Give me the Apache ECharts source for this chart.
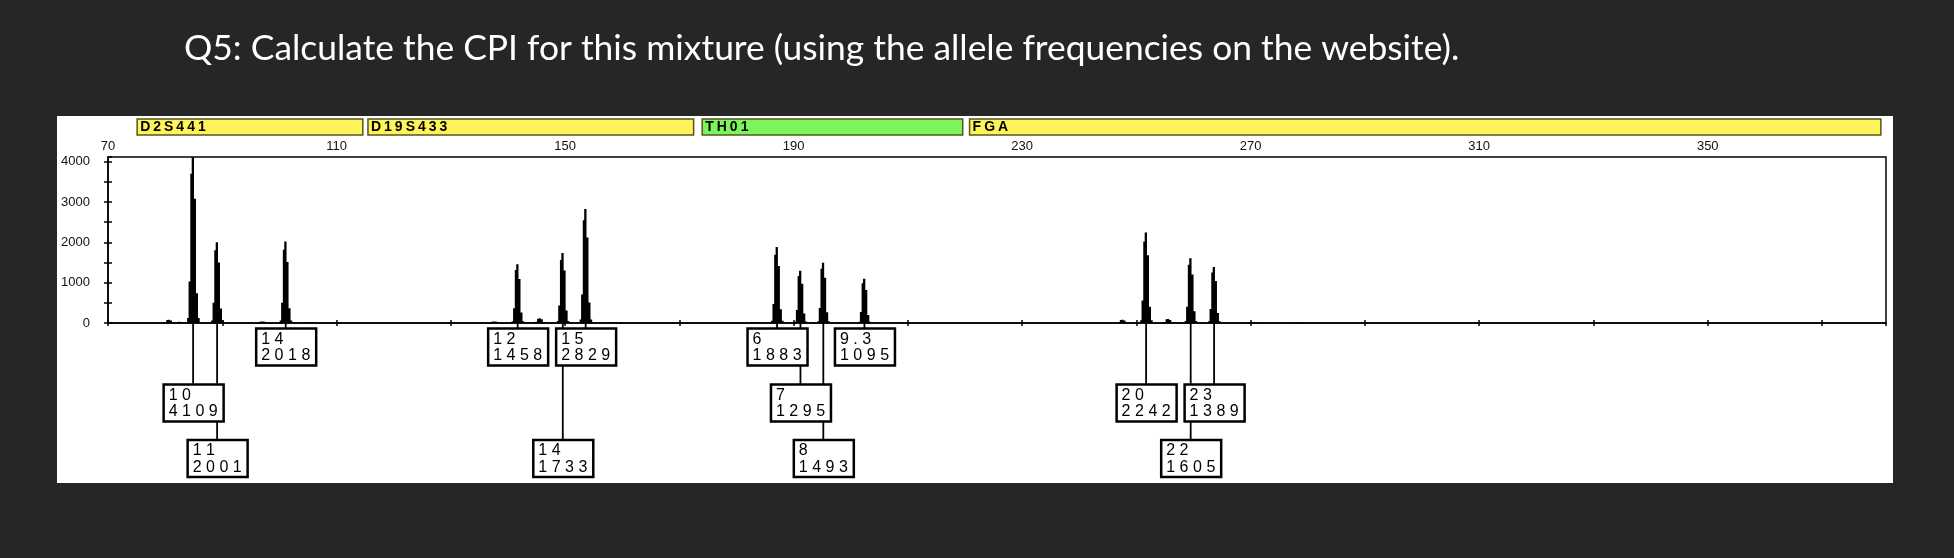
<!DOCTYPE html>
<html>
<head>
<meta charset="utf-8">
<style>
  html, body { margin: 0; padding: 0; background: #262626; }
  #chart { width: 1954px; height: 558px; }
</style>
<script src="https://cdn.jsdelivr.net/npm/echarts@6/dist/echarts.min.js"></script>
</head>
<body>
<div id="chart"></div>
<script>
// marker bars (size range in bp)
const loci = ["D2S441", "D19S433", "TH01", "FGA"];
const locusStart = [75.1, 115.5, 174.0, 220.8];
const locusEnd = [114.6, 172.5, 219.6, 380.3];
const locusDye = ["yellow", "yellow", "green", "yellow"];

// all peaks seen in the trace: size (bp) and height (RFU)
const peakSize = [80.7, 82.5, 84.9, 89.1, 97.1, 101.1, 105.3,
  137.7, 141.7, 145.6, 149.6, 153.6, 159.0,
  183.2, 187.1, 191.2, 195.2, 202.4,
  247.6, 251.7, 255.6, 259.5, 263.6, 270.2, 278.4];
const peakHeight = [80, 30, 4109, 2001, 40, 2018, 20,
  40, 1458, 120, 1733, 2829, 20,
  20, 1883, 1295, 1493, 1095,
  80, 2242, 100, 1605, 1389, 20, 20];

// called alleles (label boxes)
const alleleName = ["10", "11", "14", "12", "14", "15", "6", "7", "8", "9.3", "20", "22", "23"];
const alleleSize = [84.9, 89.1, 101.1, 141.7, 149.6, 153.6, 187.1, 191.2, 195.2, 202.4, 251.7, 259.5, 263.6];
const alleleRFU = [4109, 2001, 2018, 1458, 1733, 2829, 1883, 1295, 1493, 1095, 2242, 1605, 1389];
const alleleRow = [2, 3, 1, 1, 3, 1, 1, 2, 3, 1, 2, 3, 2];

// tick labels
const xTickLabels = [70, 110, 150, 190, 230, 270, 310, 350];
const yTickLabels = [0, 1000, 2000, 3000, 4000];

const dyeColor = { yellow: "#fff35c", green: "#7cf55c" };
const ROW_TOP = [5.5, 61.5, 117]; // px below the baseline
const BOX_W = 60, BOX_H = 37;
// stepped peak outline: [offset in bp, fraction of height]
const PEAK_STEPS = [[-1.05, 0.03], [-0.8, 0.25], [-0.5, 0.9], [-0.25, 1], [0.15, 0.75], [0.5, 0.18], [0.85, 0.03], [1.15, 0]];

const ctx = document.createElement("canvas").getContext("2d");
// text with wide letter spacing, one element per char
function spacedText(str, x, y, font, gap) {
  ctx.font = font;
  const out = [];
  let cx = x;
  for (const ch of str) {
    out.push({
      type: "text", x: cx, y: y,
      style: { text: ch, font: font, fill: "#000", align: "left", verticalAlign: "middle" }
    });
    cx += ctx.measureText(ch).width + gap;
  }
  return out;
}

const title = "Q5: Calculate the CPI for this mixture (using the allele frequencies on the website).";
ctx.font = '100px Lato';
const titleSize = 100 * 1276 / ctx.measureText(title).width;

const chart = echarts.init(document.getElementById("chart"));

const option = {
  backgroundColor: "#262626",
  animation: false,
  graphic: [
    { type: "rect", z: -10, shape: { x: 57, y: 116, width: 1836, height: 367 }, style: { fill: "#fff" } },
    { type: "text", left: 184, top: 31, style: { text: title, font: titleSize.toFixed(1) + "px Lato", fill: "#fff" } }
  ],
  grid: {
    left: 108, top: 157, right: 68, bottom: 235,
    show: true, borderColor: "#000", borderWidth: 1.5,
    outerBoundsMode: "none"
  },
  xAxis: [
    {
      type: "value", position: "top", min: 70, max: 381.2, interval: 20,
      axisLine: { show: true, lineStyle: { color: "#000", width: 1.5 } },
      axisTick: { show: true, length: 3, lineStyle: { color: "#000", width: 1.5 } },
      splitLine: { show: false },
      axisLabel: {
        margin: 4, color: "#111", fontSize: 13, fontFamily: "Liberation Sans",
        showMaxLabel: false,
        formatter: (v) => (xTickLabels.includes(v) ? String(v) : "")
      }
    },
    {
      type: "value", position: "top", min: 70, max: 381.2, interval: 20,
      axisLine: { show: false },
      axisTick: { show: true, inside: true, length: 3, lineStyle: { color: "#000", width: 1.5 } },
      splitLine: { show: false },
      axisLabel: { show: false }
    }
  ],
  yAxis: [
    {
      type: "value", min: 0, max: 4116, interval: 500,
      axisLine: { show: true, lineStyle: { color: "#000", width: 1.5 } },
      axisTick: { show: true, length: 4, lineStyle: { color: "#000", width: 1.5 } },
      splitLine: { show: false },
      axisLabel: {
        margin: 18, color: "#111", fontSize: 13, fontFamily: "Liberation Sans",
        showMaxLabel: false,
        formatter: (v) => (yTickLabels.includes(v) ? String(v) : "")
      }
    },
    {
      type: "value", min: 0, max: 4116, interval: 500, position: "left",
      axisLine: { show: false },
      axisTick: { show: true, inside: true, length: 4, lineStyle: { color: "#000", width: 1.5 } },
      splitLine: { show: false },
      axisLabel: { show: false }
    }
  ],
  series: [
    {
      // marker bars above the axis
      type: "custom", clip: false, z: 2,
      data: loci.map((n, i) => [locusStart[i], locusEnd[i]]),
      encode: { x: [0, 1] },
      renderItem: (params, api) => {
        const i = params.dataIndex;
        const x0 = api.coord([api.value(0), 0])[0];
        const x1 = api.coord([api.value(1), 0])[0];
        return {
          type: "group",
          children: [
            {
              type: "rect", shape: { x: x0, y: 119, width: x1 - x0, height: 16 },
              style: { fill: dyeColor[locusDye[i]], stroke: "#55551c", lineWidth: 1.5 }
            },
            ...spacedText(loci[i], x0 + 3, 127.5, 'bold 14px "Liberation Sans"', 3)
          ]
        };
      }
    },
    {
      // peaks
      type: "custom", z: 3,
      data: peakSize.map((s, i) => [s, peakHeight[i]]),
      encode: { x: 0, y: 1 },
      renderItem: (params, api) => {
        const s = api.value(0), h = api.value(1);
        const pts = [api.coord([s + PEAK_STEPS[0][0], 0])];
        for (let k = 0; k < PEAK_STEPS.length - 1; k++) {
          const a = PEAK_STEPS[k][0], f = PEAK_STEPS[k][1], b = PEAK_STEPS[k + 1][0];
          pts.push(api.coord([s + a, f * h]), api.coord([s + b, f * h]));
        }
        pts.push(api.coord([s + PEAK_STEPS[PEAK_STEPS.length - 1][0], 0]));
        return { type: "polygon", shape: { points: pts }, style: { fill: "#000" } };
      }
    },
    {
      // connector lines from baseline down to the label boxes
      type: "custom", clip: false, z: 4,
      data: alleleSize.map((s, i) => [s, alleleRFU[i]]),
      encode: { x: 0 },
      renderItem: (params, api) => {
        const i = params.dataIndex;
        const p = api.coord([api.value(0), 0]);
        const top = p[1] + ROW_TOP[alleleRow[i] - 1];
        return {
          type: "line", shape: { x1: p[0], y1: p[1], x2: p[0], y2: top },
          style: { stroke: "#000", lineWidth: 1.8 }
        };
      }
    },
    {
      // label boxes: allele / height
      type: "custom", clip: false, z: 5,
      data: alleleSize.map((s, i) => [s, alleleRFU[i]]),
      encode: { x: 0 },
      renderItem: (params, api) => {
        const i = params.dataIndex;
        const p = api.coord([api.value(0), 0]);
        const top = p[1] + ROW_TOP[alleleRow[i] - 1];
        const left = p[0] - BOX_W / 2 + 0.5;
        const font = '16px "Liberation Sans"';
        return {
          type: "group",
          children: [
            {
              type: "rect", shape: { x: left, y: top, width: BOX_W, height: BOX_H },
              style: { fill: "#fff", stroke: "#000", lineWidth: 2.5 }
            },
            ...spacedText(alleleName[i], left + 5, top + 11, font, 4.5),
            ...spacedText(String(api.value(1)), left + 5, top + 27.5, font, 4.5)
          ]
        };
      }
    }
  ]
};

chart.setOption(option);
</script>
</body>
</html>
